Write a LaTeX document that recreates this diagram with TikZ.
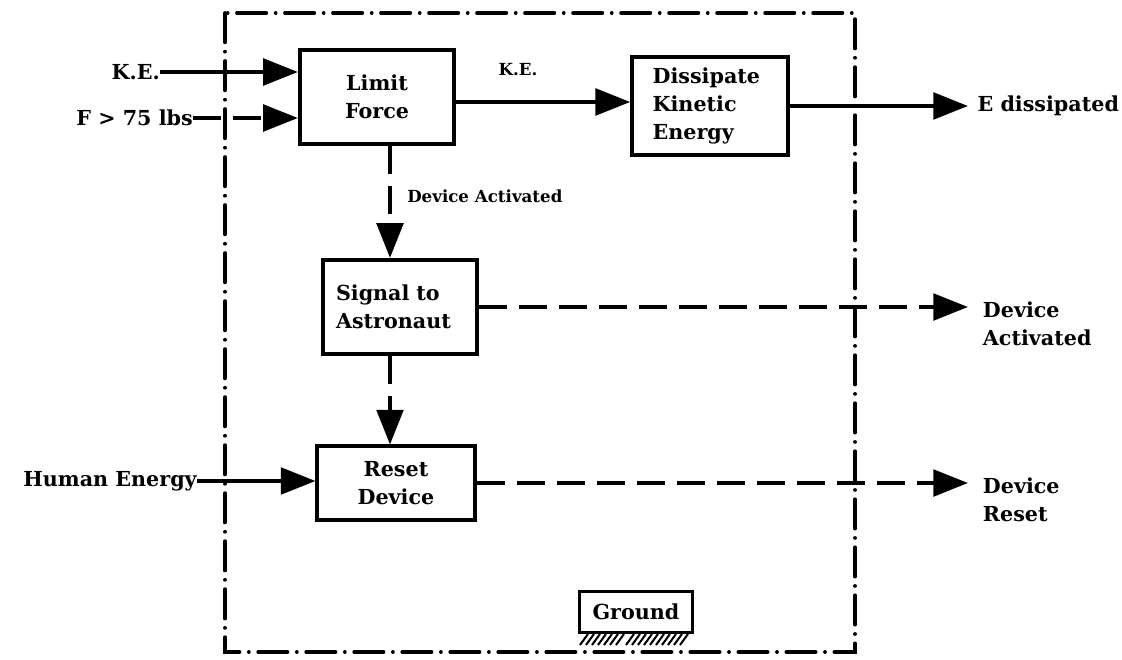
\documentclass[tikz,border=0pt]{standalone}
\usepackage{fontspec}
\setmainfont{DejaVu Serif}
\usetikzlibrary{arrows.meta}
\newcommand{\bigfnt}{\fontsize{15.5}{21}\selectfont\bfseries}
\newcommand{\smallfnt}{\fontsize{12.5}{15}\selectfont\bfseries}
\tikzset{
  blk/.style={draw, line width=2.8pt, inner sep=2pt, font=\bigfnt},
  lab/.style={inner sep=0pt, font=\bigfnt, align=left},
  smalllab/.style={inner sep=0pt, font=\smallfnt},
  flow/.style={line width=2.6pt, -{Triangle[length=26pt,width=20pt]}},
  sigflow/.style={flow, dash pattern=on 21pt off 9pt},
  bound/.style={line width=2.8pt, line cap=round, dash pattern=on 22pt off 7pt on 0.01pt off 7pt},
}
\begin{document}
\begin{tikzpicture}[x=0.75pt,y=-0.75pt]
\useasboundingbox (0,0) rectangle (1122,660);

% system boundary
\draw[bound] (225,13) rectangle (855,652);

% blocks
\node[blk, minimum width=116pt, minimum height=71pt, align=center] (lf) at (377,97) {Limit\\Force};
\node[blk, minimum width=117pt, minimum height=73.5pt, align=left, text width=86pt] (dp) at (710,106) {Dissipate\\Kinetic\\Energy};
\node[blk, minimum width=116pt, minimum height=71pt, align=left, text width=96pt] (sg) at (400,307) {Signal to\\Astronaut};
\node[blk, minimum width=118pt, minimum height=55pt, align=center] (rs) at (396,483) {Reset\\Device};
\node[blk, line width=2.2pt, minimum width=85pt, minimum height=31pt] (gr) at (636,612) {Ground};
\foreach \x in {588,594,...,624,634,640,...,688} \draw[line width=1.5pt] (\x,634) -- ++(-8,11);

% left inputs
\node[lab, anchor=east] (ke) at (160,72) {K.E.};
\node[lab, anchor=east] (ff) at (193,118) {F > 75 lbs};
\node[lab, anchor=east] (he) at (197,481) {Human Energy};

% right outputs
\node[lab, anchor=west, inner xsep=7pt] (ed) at (968,106) {E dissipated};
\node[lab, anchor=west, inner xsep=11pt] (da) at (968,324) {Device\\Activated};
\node[lab, anchor=west, inner xsep=11pt] (dr) at (968,500) {Device\\Reset};

% internal labels
\node[smalllab] (kem) at (518,70) {K.E.};
\node[smalllab, anchor=west] (dam) at (407,196) {Device Activated};

\coordinate (cx) at (390,0);

% connectors
\draw[flow] (ke.east) -- (ke.east -| lf.west);
\draw[sigflow] (ff.east) -- (ff.east -| lf.west);
\draw[flow] (lf.east |- 0,102) -- (dp.west |- 0,102);
\draw[flow] (dp.east) -- (dp.east -| ed.west);
\draw[sigflow] (lf.south -| cx) -- (sg.north -| cx);
\draw[sigflow] (sg.east) -- (sg.east -| da.west);
\draw[sigflow] (sg.south -| cx) -- (rs.north -| cx);
\draw[flow] (he.east) -- (he.east -| rs.west);
\draw[sigflow] (rs.east) -- (rs.east -| dr.west);
\end{tikzpicture}
\end{document}
